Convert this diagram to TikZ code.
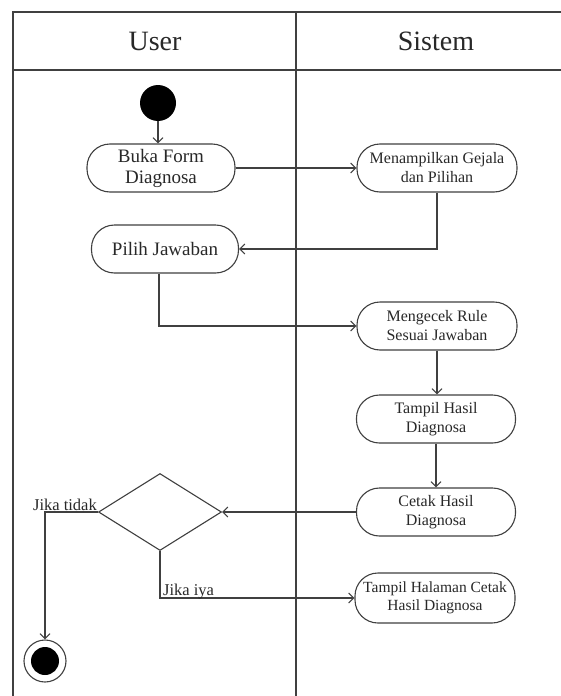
\documentclass[tikz,border=0pt]{standalone}
\usepackage{fontspec}
\setmainfont{Liberation Serif}
\usetikzlibrary{arrows.meta,shapes.geometric}
\definecolor{linec}{RGB}{64,64,64}
\definecolor{txtc}{RGB}{40,40,40}
\begin{document}
\begin{tikzpicture}[x=1pt,y=-1pt,
  frame/.style={draw=linec, line width=1.3pt},
  act/.style={draw=linec, line width=1.1pt, rectangle, rounded corners=23pt,
    minimum height=48pt, align=center, inner sep=2pt, text=txtc,
    font=\fontsize{16}{19}\selectfont},
  bigact/.style={act, font=\fontsize{19}{21}\selectfont},
  flow/.style={draw=linec, line width=1.1pt, -{Straight Barb[length=5pt,width=10pt]}},
  lbl/.style={inner sep=0pt, text=txtc, font=\fontsize{16.5}{19}\selectfont},
  head/.style={text=txtc, font=\fontsize{28}{30}\selectfont}]
\useasboundingbox (0,0) rectangle (561,696);
\fill[white] (0,0) rectangle (561,696);
% frame
\draw[frame] (561,12) -- (13,12) -- (13,696);
\draw[frame] (13,70) -- (561,70);
\draw[frame] (296,12) -- (296,696);
\node[head] (huser) at (155,41) {User};
\node[head] (hsis) at (436,41) {Sistem};
% nodes
\node[circle, fill=black, minimum size=36pt, inner sep=0pt] (start) at (158,103) {};
\node[bigact, minimum width=148pt] (buka) at (161,168) {Buka Form\\Diagnosa};
\node[act, minimum width=160pt] (tampil) at (437,168) {Menampilkan Gejala\\dan Pilihan};
\node[bigact, minimum width=147pt] (pilih) at (165,249) {Pilih Jawaban};
\node[act, minimum width=160pt] (cek) at (437,326) {Mengecek Rule\\Sesuai Jawaban};
\node[act, minimum width=159pt] (hasil) at (436,419) {Tampil Hasil\\Diagnosa};
\node[act, minimum width=159pt] (cetak) at (436,512) {Cetak Hasil\\Diagnosa};
\node[diamond, draw=linec, line width=1.1pt, minimum width=123pt, minimum height=77pt, inner sep=0pt] (dec) at (160,512) {};
\node[act, minimum width=160pt, minimum height=50pt, font=\fontsize{15.5}{18}\selectfont] (halaman) at (435,598) {Tampil Halaman Cetak\\Hasil Diagnosa};
\node[circle, draw=linec, line width=1.1pt, minimum size=42pt, inner sep=0pt] (end) at (45,661) {};
\node[circle, fill=black, minimum size=28pt, inner sep=0pt] (endin) at (end.center) {};
% connectors
\draw[flow] (start.south) -- (start.south |- buka.north);
\draw[flow] (buka.east) -- (tampil.west);
\draw[flow] (tampil.south) |- (pilih.east);
\draw[flow] ([xshift=-6pt]pilih.south) |- (cek.west);
\draw[flow] (cek.south) -- (cek.south |- hasil.north);
\draw[flow] (hasil.south) -- (hasil.south |- cetak.north);
\draw[flow] (cetak.west) -- (dec.east);
\draw[flow] (dec.west) -| (end.north);
\draw[flow] (dec.south) |- (halaman.west);
\node[lbl, anchor=base east] (ltidak) at (97,510) {Jika tidak};
\node[lbl, anchor=base west] (liya) at (163,595) {Jika iya};
\end{tikzpicture}
\end{document}
